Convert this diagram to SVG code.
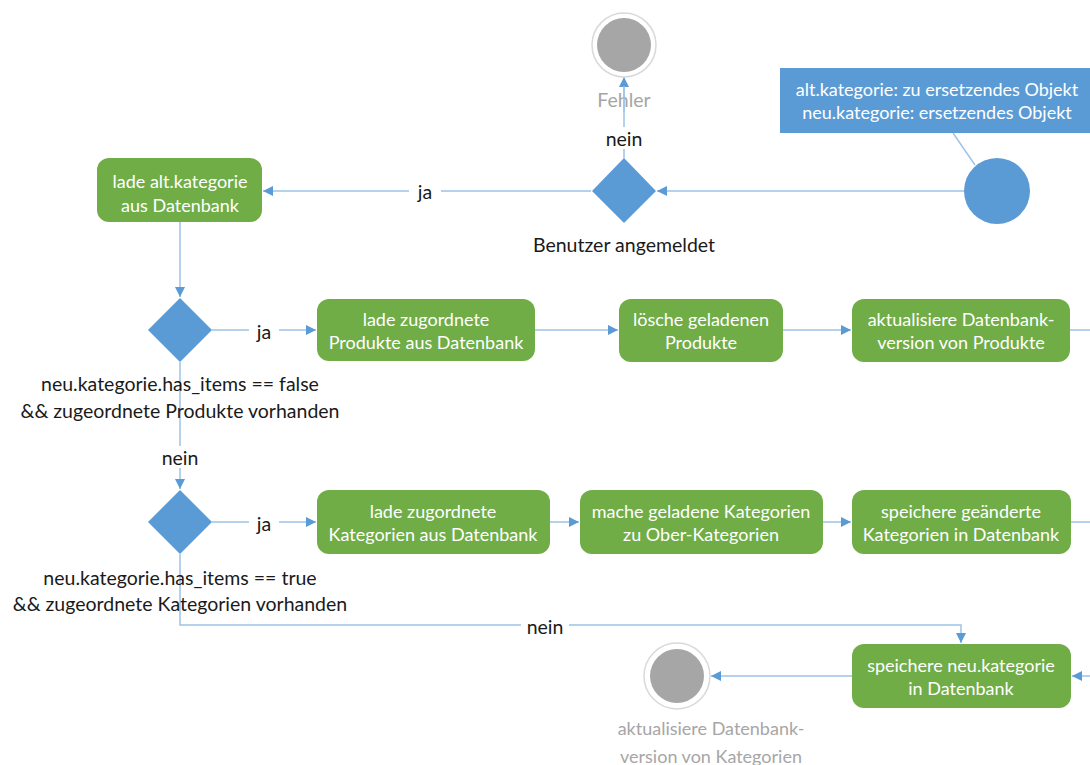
<svg xmlns="http://www.w3.org/2000/svg" width="1090" height="765" viewBox="0 0 1090 765">
  <defs>
    <marker id="arr" viewBox="0 0 10 10" refX="10" refY="5" markerWidth="10" markerHeight="10" markerUnits="userSpaceOnUse" orient="auto">
      <path d="M0,0 L10,5 L0,10 Z" fill="#5b9bd5"/>
    </marker>
    <style>
      .bg { fill: #ffffff; }
      .act { fill: #70ad47; }
      .dec { fill: #5b9bd5; }
      .note { fill: #5b9bd5; }
      .start { fill: #5b9bd5; }
      .endo { fill: #ffffff; stroke: #d9d9d9; stroke-width: 1.5; }
      .endi { fill: #a6a6a6; }
      .edge { fill: none; stroke: #9dc3e6; stroke-width: 1.5; }
      .arrow { marker-end: url(#arr); }
      text { font-family: Lato, "Open Sans", "Liberation Sans", sans-serif; text-anchor: middle; dominant-baseline: central; }
      .wt { fill: #ffffff; font-size: 18px; }
      .nt { fill: #ffffff; font-size: 18px; }
      .bt { fill: #1a1a1a; font-size: 19.5px; }
      .gt { fill: #a6a6a6; font-size: 19.5px; }
      .gs { fill: #a6a6a6; font-size: 18px; }
    </style>
  </defs>
  <rect class="bg" x="0" y="0" width="1090" height="765"/>

  <g id="connectors">
    <line class="edge" x1="953" y1="133" x2="975" y2="165"/>
    <line class="edge arrow" x1="964" y1="191" x2="657" y2="191"/>
    <line class="edge arrow" x1="624" y1="158" x2="624" y2="77"/>
    <line class="edge arrow" x1="591" y1="191" x2="263" y2="191"/>
    <line class="edge arrow" x1="180" y1="222" x2="180" y2="297"/>
    <line class="edge arrow" x1="212" y1="330" x2="316" y2="330"/>
    <line class="edge arrow" x1="535" y1="330" x2="618" y2="330"/>
    <line class="edge arrow" x1="783" y1="330" x2="851" y2="330"/>
    <line class="edge" x1="1070" y1="330" x2="1090" y2="330"/>
    <line class="edge arrow" x1="180" y1="362" x2="180" y2="489"/>
    <line class="edge arrow" x1="212" y1="522" x2="316" y2="522"/>
    <line class="edge arrow" x1="550" y1="522" x2="579" y2="522"/>
    <line class="edge arrow" x1="823" y1="522" x2="851" y2="522"/>
    <line class="edge" x1="1071" y1="522" x2="1090" y2="522"/>
    <polyline class="edge arrow" points="180,554 180,625 961,625 961,643"/>
    <line class="edge arrow" x1="1090" y1="676" x2="1072" y2="676"/>
    <line class="edge arrow" x1="852" y1="676" x2="711" y2="676"/>
    <!-- edge labels -->
    <rect class="bg" x="409" y="181" width="32" height="20"/>
    <text class="bt" x="425" y="191">ja</text>
    <rect class="bg" x="602" y="127" width="44" height="22"/>
    <text class="bt" x="624" y="138">nein</text>
    <rect class="bg" x="249" y="320" width="30" height="20"/>
    <text class="bt" x="264" y="331">ja</text>
    <rect class="bg" x="249" y="512" width="30" height="20"/>
    <text class="bt" x="264" y="523">ja</text>
    <rect class="bg" x="156" y="446" width="48" height="22"/>
    <text class="bt" x="180" y="457">nein</text>
    <rect class="bg" x="521" y="615" width="48" height="22"/>
    <text class="bt" x="545" y="626">nein</text>
  </g>

  <g id="note">
    <rect class="note" x="780" y="68" width="310" height="65"/>
    <text class="nt" x="937" y="89">alt.kategorie: zu ersetzendes Objekt</text>
    <text class="nt" x="937" y="112">neu.kategorie: ersetzendes Objekt</text>
  </g>

  <g id="start">
    <circle class="start" cx="997" cy="191" r="33"/>
  </g>

  <g id="fehler">
    <circle class="endo" cx="624" cy="45" r="32"/>
    <circle class="endi" cx="624" cy="45" r="27"/>
    <text class="gt" x="624" y="99">Fehler</text>
    <line class="edge" x1="624" y1="86" x2="624" y2="112"/>
  </g>

  <g id="benutzer-angemeldet">
    <polygon class="dec" points="624,158 656,191 624,223 592,191"/>
    <text class="bt" x="624" y="244">Benutzer angemeldet</text>
  </g>

  <g id="lade-alt-kategorie">
    <rect class="act" x="97" y="158" width="165" height="64" rx="12"/>
    <text class="wt" x="180" y="181">lade alt.kategorie</text>
    <text class="wt" x="180" y="205">aus Datenbank</text>
  </g>

  <g id="check-produkte">
    <polygon class="dec" points="180,298 212,330 180,362 148,330"/>
    <text class="bt" x="180" y="383">neu.kategorie.has_items == false</text>
    <text class="bt" x="180" y="410">&amp;&amp; zugeordnete Produkte vorhanden</text>
  </g>

  <g id="lade-produkte">
    <rect class="act" x="317" y="299" width="218" height="62" rx="12"/>
    <text class="wt" x="426" y="319">lade zugordnete</text>
    <text class="wt" x="426" y="342">Produkte aus Datenbank</text>
  </g>

  <g id="loesche-produkte">
    <rect class="act" x="619" y="299" width="164" height="63" rx="12"/>
    <text class="wt" x="701" y="319">lösche geladenen</text>
    <text class="wt" x="701" y="342">Produkte</text>
  </g>

  <g id="aktualisiere-produkte">
    <rect class="act" x="852" y="299" width="218" height="63" rx="12"/>
    <text class="wt" x="961" y="319">aktualisiere Datenbank-</text>
    <text class="wt" x="961" y="342">version von Produkte</text>
  </g>

  <g id="check-kategorien">
    <polygon class="dec" points="180,490 212,522 180,554 148,522"/>
    <text class="bt" x="180" y="577">neu.kategorie.has_items == true</text>
    <text class="bt" x="180" y="603">&amp;&amp; zugeordnete Kategorien vorhanden</text>
  </g>

  <g id="lade-kategorien">
    <rect class="act" x="317" y="490" width="233" height="64" rx="12"/>
    <text class="wt" x="433" y="511">lade zugordnete</text>
    <text class="wt" x="433" y="534">Kategorien aus Datenbank</text>
  </g>

  <g id="mache-oberkategorien">
    <rect class="act" x="580" y="490" width="243" height="64" rx="12"/>
    <text class="wt" x="701" y="511">mache geladene Kategorien</text>
    <text class="wt" x="701" y="534">zu Ober-Kategorien</text>
  </g>

  <g id="speichere-kategorien">
    <rect class="act" x="852" y="490" width="219" height="64" rx="12"/>
    <text class="wt" x="961" y="511">speichere geänderte</text>
    <text class="wt" x="961" y="534">Kategorien in Datenbank</text>
  </g>

  <g id="speichere-neu-kategorie">
    <rect class="act" x="852" y="644" width="219" height="64" rx="12"/>
    <text class="wt" x="961" y="665">speichere neu.kategorie</text>
    <text class="wt" x="961" y="688">in Datenbank</text>
  </g>

  <g id="ende">
    <circle class="endo" cx="677" cy="676" r="33"/>
    <circle class="endi" cx="677" cy="676" r="27"/>
    <text class="gs" x="711" y="728">aktualisiere Datenbank-</text>
    <text class="gs" x="711" y="756">version von Kategorien</text>
  </g>
</svg>
